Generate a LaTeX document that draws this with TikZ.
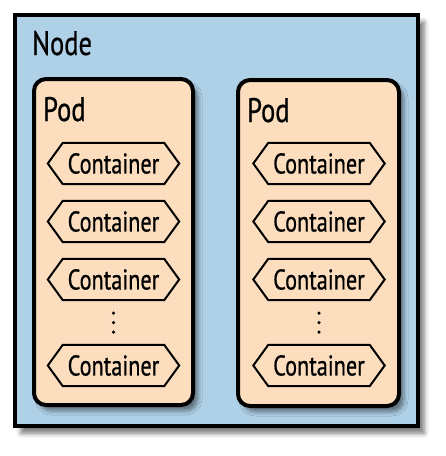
\documentclass[tikz,border=0pt]{standalone}
\usepackage{fontspec}
\setmainfont{PT Sans}[FakeStretch=0.78, FakeBold=0.6]
\usetikzlibrary{shadows.blur}
\definecolor{nodeblue}{RGB}{175,209,231}
\definecolor{podpeach}{RGB}{252,222,190}
\tikzset{
  nodebox/.style={draw=black, line width=4pt, fill=nodeblue,
    blur shadow={shadow xshift=6pt, shadow yshift=-7pt, shadow blur radius=5pt, shadow opacity=55}},
  podbox/.style={draw=black, line width=4pt, fill=podpeach, rounded corners=12pt,
    blur shadow={shadow xshift=5pt, shadow yshift=-6pt, shadow blur radius=4pt, shadow opacity=45}},
  biglabel/.style={anchor=base west, inner sep=0pt, font=\fontsize{34}{36}\selectfont},
  hexbox/.style={minimum width=131pt, minimum height=41pt, inner sep=0pt,
    font=\fontsize{28.5}{30}\selectfont},
  hexline/.style={draw=black, line width=2pt, line join=miter},
  dot/.style={circle, fill=black, inner sep=0pt, minimum size=3.5pt}
}
\newcommand{\hexoutline}[1]{%
  \draw[hexline] (#1.west) -- ([xshift=15pt]#1.north west)
      -- ([xshift=-15pt]#1.north east) -- (#1.east)
      -- ([xshift=-15pt]#1.south east)
      -- ([xshift=15pt]#1.south west) -- cycle;}
\begin{document}
\begin{tikzpicture}[x=1pt, y=-1pt]
\useasboundingbox (0,0) rectangle (446,456);
\path[nodebox] (15,15) rectangle (418,426);
\node[biglabel] (nodelabel) at (32,55) {Node};
\path[podbox] (34,79) rectangle (193,405);
\path[podbox] (238,80) rectangle (399,406);
\node[biglabel] (pod1) at (43,121) {Pod};
\node[biglabel] (pod2) at (247,122) {Pod};
\foreach \px/\pn in {113.5/a, 319/b} {
  \node[hexbox] (\pn1) at (\px,163.5) {Container};
  \node[hexbox] (\pn2) at (\px,221.5) {Container};
  \node[hexbox] (\pn3) at (\px,279.5) {Container};
  \node[hexbox] (\pn4) at (\px,365.5) {Container};
  \hexoutline{\pn1}
  \hexoutline{\pn2}
  \hexoutline{\pn3}
  \hexoutline{\pn4}
  \node[dot] (\pn d1) at (\px,313) {};
  \node[dot] (\pn d2) at (\px,322.5) {};
  \node[dot] (\pn d3) at (\px,332) {};
}
\end{tikzpicture}
\end{document}
